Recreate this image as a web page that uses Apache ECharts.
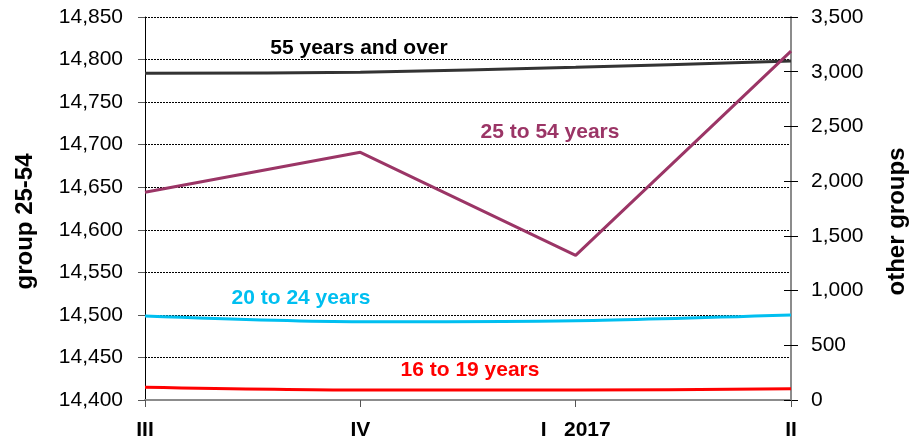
<!DOCTYPE html>
<html>
<head>
<meta charset="utf-8">
<script src="https://cdn.jsdelivr.net/npm/echarts@6/dist/echarts.min.js"></script>
<style>
  html, body { margin: 0; padding: 0; background: #fff; }
  #chart { width: 910px; height: 439px; }
</style>
</head>
<body>
<div id="chart"></div>
<script>
const quarters = ['III', 'IV', 'I   2017', 'II'];
const group25to54 = [14644, 14691, 14570, 14810];
const group55over = [2985, 2995, 3040, 3098];
const group20to24 = [768, 716, 725, 777];
const group16to19 = [116, 91, 91, 103];

const FONT = '"Liberation Sans", Arial, sans-serif';
const fmt = v => v.toLocaleString('en-US');

const chart = echarts.init(document.getElementById('chart'));

const option = {
  animation: false,
  backgroundColor: '#fff',
  grid: { left: 145, right: 119, top: 17, bottom: 39, outerBoundsMode: 'none', containLabel: false },
  xAxis: {
    type: 'category',
    data: quarters,
    boundaryGap: false,
    axisLine: { lineStyle: { color: '#8c8c8c', width: 2 } },
    axisTick: { alignWithLabel: true, length: 7, lineStyle: { color: '#555', width: 1 } },
    axisLabel: {
      interval: 0, margin: 20,
      fontFamily: FONT, fontSize: 21, fontWeight: 'bold', color: '#000'
    },
    splitLine: { show: false }
  },
  yAxis: [
    {
      type: 'value', position: 'left',
      min: 14400, max: 14850, interval: 50,
      name: 'group 25-54', nameLocation: 'middle', nameGap: 108, nameRotate: 90,
      nameTextStyle: { fontFamily: FONT, fontSize: 24, fontWeight: 'bold', color: '#000', padding: [0, 26, 0, 0] },
      axisLine: { show: true, lineStyle: { color: '#000', width: 1 } },
      axisTick: { show: true, length: 7, lineStyle: { color: '#555' } },
      axisLabel: { formatter: fmt, margin: 22, fontFamily: FONT, fontSize: 21, color: '#000' },
      splitLine: { show: true, lineStyle: { color: '#000', type: [2, 1], width: 1 } }
    },
    {
      type: 'value', position: 'right',
      min: 0, max: 3500, interval: 500,
      name: 'other groups', nameLocation: 'middle', nameGap: 94, nameRotate: 90,
      nameTextStyle: { fontFamily: FONT, fontSize: 24, fontWeight: 'bold', color: '#000', padding: [0, 26, 0, 0] },
      axisLine: { show: true, lineStyle: { color: '#8c8c8c', width: 2 } },
      axisTick: { show: true, length: 7, lineStyle: { color: '#000' } },
      axisLabel: { formatter: fmt, margin: 20, fontFamily: FONT, fontSize: 21, color: '#000' },
      splitLine: { show: false }
    },
    {
      // inner half of the crossing ticks on the right axis
      type: 'value', position: 'right',
      min: 0, max: 3500, interval: 500,
      axisLine: { show: false },
      axisTick: { show: true, inside: true, length: 7, lineStyle: { color: '#000' } },
      axisLabel: { show: false },
      splitLine: { show: false }
    }
  ],
  series: [
    {
      name: '55 years and over', type: 'line', yAxisIndex: 1,
      data: group55over, smooth: 0.3, symbol: 'none',
      lineStyle: { color: '#333333', width: 3 }
    },
    {
      name: '25 to 54 years', type: 'line', yAxisIndex: 0,
      data: group25to54, symbol: 'none',
      lineStyle: { color: '#9b3566', width: 3 }
    },
    {
      name: '20 to 24 years', type: 'line', yAxisIndex: 1,
      data: group20to24, smooth: 0.3, symbol: 'none',
      lineStyle: { color: '#00bff0', width: 3 }
    },
    {
      name: '16 to 19 years', type: 'line', yAxisIndex: 1,
      data: group16to19, smooth: 0.3, symbol: 'none',
      lineStyle: { color: '#ff0000', width: 3 }
    }
  ],
  graphic: [
    { type: 'text', x: 359, y: 48, style: { text: '55 years and over', fill: '#000', font: 'bold 21px ' + FONT, align: 'center', verticalAlign: 'middle' } },
    { type: 'text', x: 550, y: 132, style: { text: '25 to 54 years', fill: '#9b3566', font: 'bold 21px ' + FONT, align: 'center', verticalAlign: 'middle' } },
    { type: 'text', x: 301, y: 298, style: { text: '20 to 24 years', fill: '#00bff0', font: 'bold 21px ' + FONT, align: 'center', verticalAlign: 'middle' } },
    { type: 'text', x: 470, y: 370, style: { text: '16 to 19 years', fill: '#ff0000', font: 'bold 21px ' + FONT, align: 'center', verticalAlign: 'middle' } }
  ]
};

chart.setOption(option);
</script>
</body>
</html>
